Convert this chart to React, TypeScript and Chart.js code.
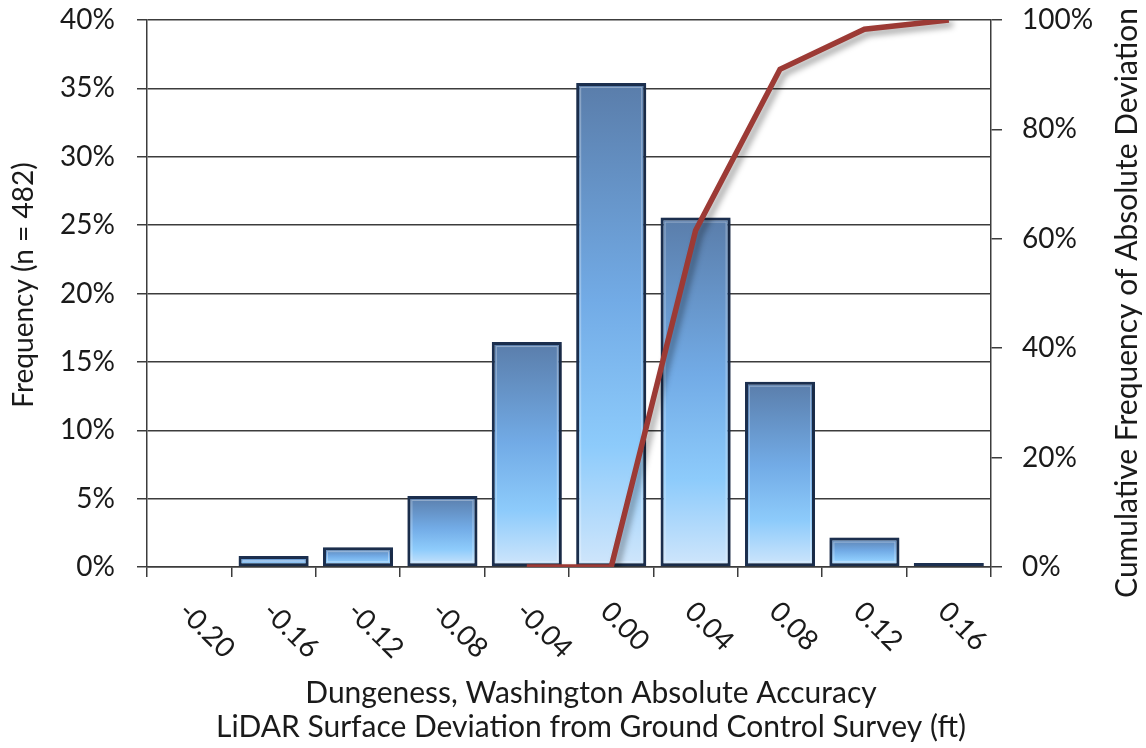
import React, { useEffect, useRef } from "react";
import { Chart, registerables } from "chart.js";

Chart.register(...registerables);

const categories = ["-0.20", "-0.16", "-0.12", "-0.08", "-0.04", "0.00", "0.04", "0.08", "0.12", "0.16"];
const frequency = [0, 0.8, 1.45, 5.2, 16.45, 35.4, 25.55, 13.55, 2.15, 0.3];
const cumulative = [null, null, null, null, 0, 0, 61.5, 91, 98.3, 100];
const leftTicks = [0, 5, 10, 15, 20, 25, 30, 35, 40];
const rightTicks = [0, 20, 40, 60, 80, 100];
const xTitleLines = ["Dungeness, Washington Absolute Accuracy", "LiDAR Surface Deviation from Ground Control Survey (ft)"];
const leftTitle = "Frequency (n = 482)";
const rightTitle = "Cumulative Frequency of Absolute Deviation";

const FONT = "Lato, 'Open Sans', sans-serif";
const TEXT = "#1a1a1a";
const GRID = "#3c3c3c";

const W = 1146;
const H = 748;

const decorPlugin = {
  id: "decor",
  beforeDatasetDraw(chart: any, args: any) {
    const ctx = chart.ctx;
    ctx.save();
    if (args.meta.type === "line") {
      ctx.shadowColor = "rgba(0,0,0,0.38)";
      ctx.shadowBlur = 6;
      ctx.shadowOffsetX = 4;
      ctx.shadowOffsetY = 4;
    } else {
      ctx.shadowColor = "rgba(0,0,0,0.3)";
      ctx.shadowBlur = 4;
      ctx.shadowOffsetX = 1;
      ctx.shadowOffsetY = 1;
    }
  },
  afterDatasetDraw(chart: any, args: any) {
    const ctx = chart.ctx;
    ctx.restore();
    if (args.meta.type === "bar") {
      ctx.save();
      ctx.strokeStyle = "rgba(255,255,255,0.35)";
      ctx.lineWidth = 1;
      for (const el of args.meta.data) {
        const p = el.getProps(["x", "y", "base", "width"], true);
        const h = p.base - p.y;
        if (h < 8) continue;
        const l = p.x - p.width / 2 + 4.5;
        const r = p.x + p.width / 2 - 4.5;
        ctx.strokeRect(l, p.y + 4.5, r - l, h - 9);
      }
      ctx.restore();
    }
  },
  afterDraw(chart: any) {
    const ctx = chart.ctx;
    const xs = chart.scales.x;
    const area = chart.chartArea;
    ctx.save();
    ctx.fillStyle = TEXT;
    // rotated category labels
    ctx.font = `28px ${FONT}`;
    ctx.textAlign = "left";
    ctx.textBaseline = "top";
    categories.forEach((c, i) => {
      const x = xs.getPixelForValue(i);
      ctx.save();
      ctx.translate(x + 4, area.bottom + 30);
      ctx.rotate(Math.PI / 4);
      ctx.fillText(c, 0, 0);
      ctx.restore();
    });
    // x title
    ctx.font = `30px ${FONT}`;
    ctx.textAlign = "center";
    ctx.textBaseline = "alphabetic";
    const cx = (area.left + area.right) / 2 + 22;
    ctx.fillText(xTitleLines[0], cx, area.bottom + 136);
    ctx.fillText(xTitleLines[1], cx, area.bottom + 170);
    // left title
    ctx.save();
    ctx.font = `28px ${FONT}`;
    ctx.translate(33, 285);
    ctx.rotate(-Math.PI / 2);
    ctx.fillText(leftTitle, 0, 0);
    ctx.restore();
    // right title
    ctx.save();
    ctx.font = `30px ${FONT}`;
    ctx.translate(1137, 303);
    ctx.rotate(-Math.PI / 2);
    ctx.fillText(rightTitle, 0, 0);
    ctx.restore();
    ctx.restore();
  },
};

function barGradient(c: any) {
  const chart = c.chart;
  if (!chart.chartArea || c.type !== "data") return "#74aee8";
  const y = chart.scales.y;
  const top = y.getPixelForValue(c.raw);
  const bot = y.getPixelForValue(0);
  if (!(bot - top > 1)) return "#5a7eaa";
  const g = chart.ctx.createLinearGradient(0, top, 0, bot);
  g.addColorStop(0, "#5a7daa");
  g.addColorStop(0.45, "#72abe6");
  g.addColorStop(0.75, "#8dcbfb");
  g.addColorStop(1, "#d0e6fb");
  return g;
}

export default function App() {
  const ref = useRef<HTMLCanvasElement | null>(null);
  useEffect(() => {
    if (!ref.current) return;
    const chart = new Chart(ref.current, {
      type: "bar",
      data: {
        labels: categories,
        datasets: [
          {
            type: "line",
            label: "Cumulative",
            data: cumulative,
            yAxisID: "y1",
            borderColor: "#9c3a35",
            borderWidth: 5.5,
            pointRadius: 0,
            tension: 0,
            spanGaps: false,
            order: 0,
          } as any,
          {
            type: "bar",
            label: "Frequency",
            data: frequency,
            yAxisID: "y",
            backgroundColor: barGradient,
            borderColor: "#1c3050",
            borderWidth: 3,
            borderSkipped: false,
            barPercentage: 0.83,
            categoryPercentage: 1,
            order: 1,
          } as any,
        ],
      },
      options: {
        animation: false,
        responsive: false,
        maintainAspectRatio: false,
        layout: { padding: { top: 20, left: 0, right: 0, bottom: 0 } },
        plugins: { legend: { display: false }, tooltip: { enabled: false } },
        scales: {
          x: {
            type: "category",
            offset: true,
            grid: { display: true, offset: true, drawOnChartArea: false, drawTicks: true, tickLength: 10, color: GRID, lineWidth: 1.5 },
            border: { display: true, color: GRID, width: 1.5 },
            ticks: { display: false },
            afterFit: (s: any) => { s.height = H - 567; s.paddingLeft = 0; s.paddingRight = 0; },
          },
          y: {
            position: "left",
            min: leftTicks[0],
            max: leftTicks[leftTicks.length - 1],
            afterBuildTicks: (s: any) => { s.ticks = leftTicks.map((v) => ({ value: v })); },
            ticks: { color: TEXT, font: { family: FONT, size: 28 }, padding: 22, callback: (v: any) => `${v}%` },
            grid: { color: GRID, lineWidth: 1.5, drawTicks: true, tickLength: 10 },
            border: { display: true, color: GRID, width: 1.5 },
            afterFit: (s: any) => { s.width = 147; s.paddingTop = 0; s.paddingBottom = 0; },
          },
          y1: {
            position: "right",
            min: rightTicks[0],
            max: rightTicks[rightTicks.length - 1],
            afterBuildTicks: (s: any) => { s.ticks = rightTicks.map((v) => ({ value: v })); },
            ticks: { color: TEXT, font: { family: FONT, size: 28 }, padding: 20, callback: (v: any) => `${v}%` },
            grid: { color: GRID, lineWidth: 1.5, drawOnChartArea: false, drawTicks: true, tickLength: 11 },
            border: { display: true, color: GRID, width: 1.5 },
            afterFit: (s: any) => { s.width = W - 991; s.paddingTop = 0; s.paddingBottom = 0; },
          },
        },
      } as any,
      plugins: [decorPlugin],
    });
    return () => chart.destroy();
  }, []);
  return (
    <div style={{ position: "absolute", left: 0, top: 0, width: W, height: H, background: "#fff" }}>
      <canvas ref={ref} width={W} height={H} style={{ display: "block", width: W, height: H }} />
    </div>
  );
}
